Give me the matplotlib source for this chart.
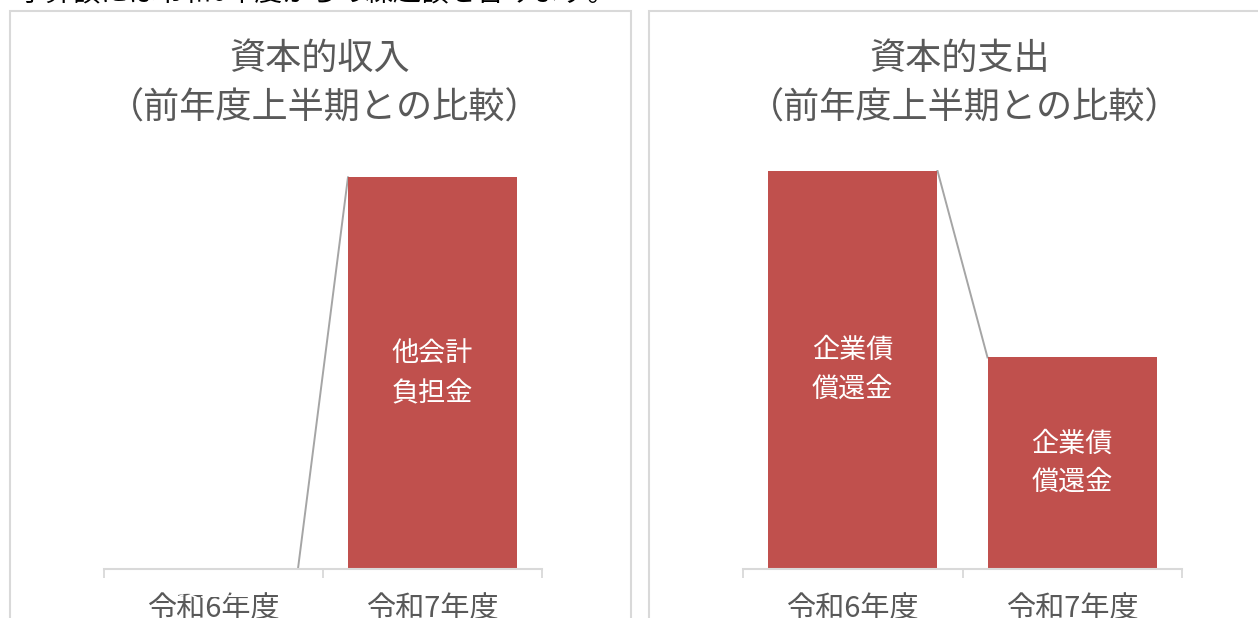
import matplotlib
matplotlib.use('Agg')
import matplotlib.pyplot as plt
from matplotlib.patches import Rectangle

plt.rcParams['font.family'] = ['Noto Sans CJK JP', 'DejaVu Sans']

W, H = 1258, 618

# data (bar heights, same scale in both panels)
years = ['令和6年度', '令和7年度']
income_vals = [2, 1170]
income_labels = ['他会計\n負担金', '他会計\n負担金']
expense_vals = [1190, 632]
expense_labels = ['企業債\n償還金', '企業債\n償還金']
titles = ['資本的収入', '資本的支出']
subtitle = '（前年度上半期との比較）'
note = '予算額には令和6年度からの繰越額を含みます。'

bar_color = '#C0504D'
text_gray = '#595959'
line_gray = '#D9D9D9'
conn_gray = '#A5A5A5'
ymax = 1192
bar_w = 0.772


def px(x, y):
    return x / W, 1 - y / H


fig = plt.figure(figsize=(W / 100, H / 100), dpi=100)

# cut-off note line at the very top
fig.text(18 / W, 1 - 1 / H, note, fontsize=20, color='#000000', va='baseline', ha='left')

# panel frames
fig.patches.append(Rectangle(px(9.5, 700), 621 / W, 689 / H, transform=fig.transFigure,
                             fill=False, edgecolor=line_gray, lw=1.5))
fig.patches.append(Rectangle(px(648.5, 700), 640 / W, 689 / H, transform=fig.transFigure,
                             fill=False, edgecolor=line_gray, lw=1.5))

panels = [
    (104, 438, income_vals, income_labels, titles[0]),
    (743, 439, expense_vals, expense_labels, titles[1]),
]

for left, width, vals, labels, title in panels:
    ax = fig.add_axes([left / W, 1 - 569 / H, width / W, 399 / H])
    x = range(len(vals))
    ax.bar(x, vals, width=bar_w, color=bar_color, zorder=2)
    for i in range(len(vals) - 1):
        ax.plot([i + bar_w / 2, i + 1 - bar_w / 2], [vals[i], vals[i + 1]],
                color=conn_gray, lw=1.4, zorder=1.5)
    for i, (v, lab) in enumerate(zip(vals, labels)):
        ax.text(i, v / 2, lab, ha='center', va='center', color='white',
                fontsize=19.5, linespacing=1.55, zorder=4, clip_on=False)
    ax.set_xlim(-0.5, len(vals) - 0.5)
    ax.set_ylim(0, ymax)
    ax.set_xticks(list(x))
    ax.set_xticklabels(years, fontsize=21, color=text_gray)
    ax.set_xticks([-0.5, 0.5, 1.5], minor=True)
    ax.tick_params(axis='x', which='major', length=0, pad=18.5)
    ax.tick_params(axis='x', which='minor', length=6.5, width=1.3, color=line_gray)
    ax.set_yticks([])
    for s in ['top', 'left', 'right']:
        ax.spines[s].set_visible(False)
    ax.spines['bottom'].set_color(line_gray)
    ax.spines['bottom'].set_linewidth(1.5)
    ax.patch.set_alpha(0)

    cx = left + width / 2
    fig.text((cx - 3) / W, 1 - 59 / H, title, fontsize=26, color=text_gray, ha='center', va='center')
    fig.text((cx + 2) / W, 1 - 109 / H, subtitle, fontsize=26, color=text_gray, ha='center', va='center')

fig.savefig('out.png', dpi=100, facecolor='white')
